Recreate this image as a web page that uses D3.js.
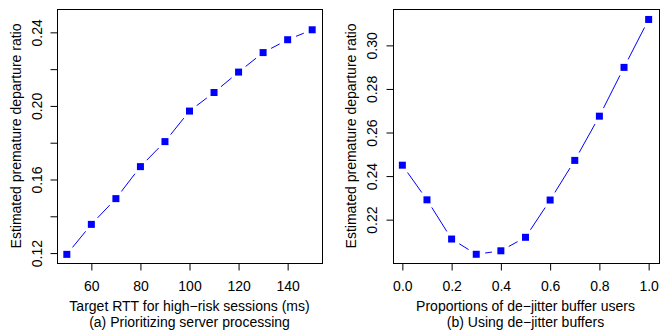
<!DOCTYPE html>
<html>
<head>
<meta charset="utf-8">
<script src="https://cdn.jsdelivr.net/npm/d3@7"></script>
<style>
  html, body { margin: 0; padding: 0; background: #fff; }
  svg { display: block; }
  text { font-family: "Liberation Sans", Arial, Helvetica, sans-serif; fill: #000; }
</style>
</head>
<body>
<svg id="chart" width="668" height="331"></svg>
<script>
// Panel (a): prioritizing server processing
const rttTargets = [50, 60, 70, 80, 90, 100, 110, 120, 130, 140, 150];
const rttRatio = [0.1193, 0.1356, 0.1496, 0.1670, 0.1806, 0.1972, 0.2073, 0.2184, 0.2290, 0.2360, 0.2414];
const rttXTicks = [60, 80, 100, 120, 140];
const rttYTicks = [0.12, 0.14, 0.16, 0.18, 0.20, 0.22, 0.24];
const rttYLabels = ["0.12", "", "0.16", "", "0.20", "", "0.24"];

// Panel (b): de-jitter buffers
const bufferShares = [0.0, 0.1, 0.2, 0.3, 0.4, 0.5, 0.6, 0.7, 0.8, 0.9, 1.0];
const bufferRatio = [0.2450, 0.2291, 0.2111, 0.2041, 0.2057, 0.2119, 0.2290, 0.2472, 0.2675, 0.2899, 0.3119];
const bufferXTicks = [0.0, 0.2, 0.4, 0.6, 0.8, 1.0];
const bufferXLabels = ["0.0", "0.2", "0.4", "0.6", "0.8", "1.0"];
const bufferYTicks = [0.22, 0.24, 0.26, 0.28, 0.30];
const bufferYLabels = ["0.22", "0.24", "0.26", "0.28", "0.30"];

const yTitle = "Estimated premature departure ratio";

const svg = d3.select("#chart");
const blue = "#0000ff";
const fontSize = 14;

function panel(cfg) {
  const x = d3.scaleLinear().domain(cfg.xDomain).range([cfg.left, cfg.right]);
  const y = d3.scaleLinear().domain(cfg.yDomain).range([cfg.bottom, cfg.top]);
  const g = svg.append("g");

  // connecting segments with gaps around each marker
  const pts = cfg.xs.map((v, i) => [x(v), y(cfg.ys[i])]);
  const gap = 9;
  for (let i = 0; i < pts.length - 1; i++) {
    const [x0, y0] = pts[i], [x1, y1] = pts[i + 1];
    const dx = x1 - x0, dy = y1 - y0, len = Math.hypot(dx, dy);
    if (len <= 2 * gap) continue;
    const ux = dx / len, uy = dy / len;
    g.append("line")
      .attr("x1", x0 + ux * gap).attr("y1", y0 + uy * gap)
      .attr("x2", x1 - ux * gap).attr("y2", y1 - uy * gap)
      .attr("stroke", blue).attr("stroke-width", 1);
  }

  // square markers
  const s = 7;
  g.selectAll("rect.pt").data(pts).enter().append("rect")
    .attr("class", "pt")
    .attr("x", d => d[0] - s / 2).attr("y", d => d[1] - s / 2)
    .attr("width", s).attr("height", s)
    .attr("fill", blue);

  // frame
  g.append("rect")
    .attr("x", Math.round(cfg.left) + 0.5).attr("y", Math.round(cfg.top) + 0.5)
    .attr("width", Math.round(cfg.right) - Math.round(cfg.left))
    .attr("height", Math.round(cfg.bottom) - Math.round(cfg.top))
    .attr("fill", "none").attr("stroke", "#000").attr("stroke-width", 1);

  // x axis
  const xAxis = d3.axisBottom(x).tickValues(cfg.xTicks).tickSize(7).tickSizeOuter(0)
    .tickFormat((d, i) => cfg.xLabels ? cfg.xLabels[i] : d);
  const gx = g.append("g").attr("transform", `translate(0,${Math.round(cfg.bottom) + 0.5})`).call(xAxis);
  gx.select(".domain").remove();
  gx.selectAll(".tick line").attr("stroke", "#000");
  gx.selectAll(".tick text").attr("font-size", fontSize).attr("font-family", null)
    .attr("y", 0).attr("dy", null).attr("transform", "translate(0,27)");

  // y axis with vertical labels
  const yAxis = d3.axisLeft(y).tickValues(cfg.yTicks).tickSize(7).tickSizeOuter(0)
    .tickFormat((d, i) => cfg.yLabels[i]);
  const gy = g.append("g").attr("transform", `translate(${Math.round(cfg.left) + 0.5},0)`).call(yAxis);
  gy.select(".domain").remove();
  gy.selectAll(".tick line").attr("stroke", "#000");
  gy.selectAll(".tick text").attr("font-size", fontSize).attr("font-family", null)
    .attr("x", null).attr("dy", null).attr("text-anchor", "middle")
    .attr("transform", `translate(${cfg.yLabelX - Math.round(cfg.left) - 0.5},0) rotate(-90)`);

  // titles
  const cx = (cfg.left + cfg.right) / 2, cy = (cfg.top + cfg.bottom) / 2;
  svg.append("text").attr("transform", `translate(${cfg.yTitleX},${cy}) rotate(-90)`)
    .attr("text-anchor", "middle").attr("font-size", fontSize).text(yTitle);
  svg.append("text").attr("x", cx).attr("y", 310.5)
    .attr("text-anchor", "middle").attr("font-size", fontSize).text(cfg.xTitle);
  svg.append("text").attr("x", cx).attr("y", 326.5)
    .attr("text-anchor", "middle").attr("font-size", fontSize).text(cfg.caption);
}

panel({
  xs: rttTargets, ys: rttRatio,
  xDomain: [46, 154], yDomain: [0.1146, 0.2527],
  left: 57, right: 322, top: 9, bottom: 263,
  xTicks: rttXTicks, yTicks: rttYTicks, yLabels: rttYLabels,
  yLabelX: 41.5, yTitleX: 20.5,
  xTitle: "Target RTT for high\u2212risk sessions (ms)",
  caption: "(a) Prioritizing server processing"
});

panel({
  xs: bufferShares, ys: bufferRatio,
  xDomain: [-0.04, 1.04], yDomain: [0.2001, 0.3167],
  left: 392.5, right: 658.5, top: 9, bottom: 263,
  xTicks: bufferXTicks, xLabels: bufferXLabels, yTicks: bufferYTicks, yLabels: bufferYLabels,
  yLabelX: 376.5, yTitleX: 356,
  xTitle: "Proportions of de\u2212jitter buffer users",
  caption: "(b) Using de\u2212jitter buffers"
});
</script>
</body>
</html>
